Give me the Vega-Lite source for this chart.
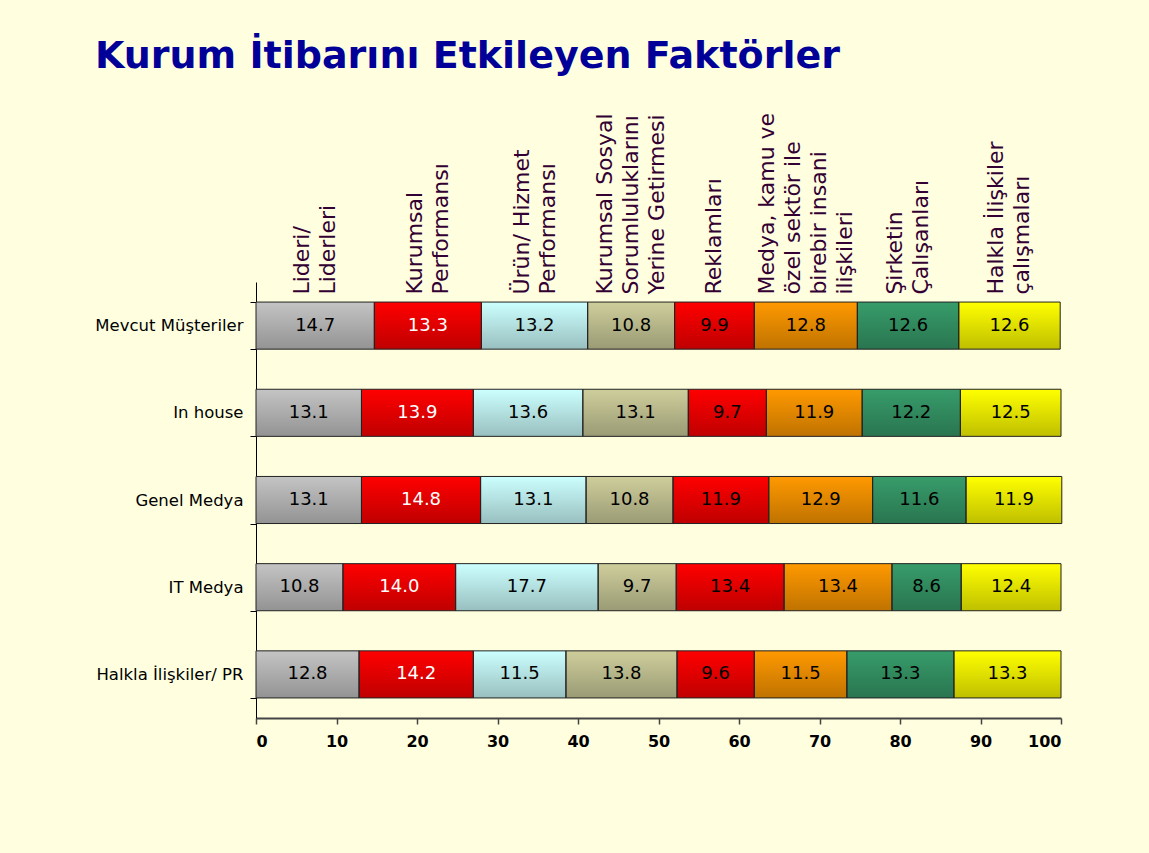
{
  "$schema": "https://vega.github.io/schema/vega-lite/v6.json",
  "width": 805,
  "height": 436,
  "autosize": {"type": "none"},
  "padding": {"left": 256, "top": 282, "right": 88, "bottom": 135},
  "background": "#FFFFE0",
  "title": {
    "text": "Kurum İtibarını Etkileyen Faktörler",
    "anchor": "start",
    "frame": "group",
    "font": "DejaVu Sans",
    "fontSize": 38,
    "fontWeight": "bold",
    "color": "#000099",
    "dx": -161,
    "offset": 37
  },
  "config": {"view": {"stroke": null}},
  "data": {
    "values": [
      {"row": "Mevcut Müşteriler", "k": 1, "factor": "Lideri/\nLiderleri", "value": 14.7},
      {"row": "Mevcut Müşteriler", "k": 2, "factor": "Kurumsal\nPerformansı", "value": 13.3},
      {"row": "Mevcut Müşteriler", "k": 3, "factor": "Ürün/ Hizmet\nPerformansı", "value": 13.2},
      {"row": "Mevcut Müşteriler", "k": 4, "factor": "Kurumsal Sosyal\nSorumluluklarını\nYerine Getirmesi", "value": 10.8},
      {"row": "Mevcut Müşteriler", "k": 5, "factor": "Reklamları", "value": 9.9},
      {"row": "Mevcut Müşteriler", "k": 6, "factor": "Medya, kamu ve\nözel sektör ile\nbirebir insani\nilişkileri", "value": 12.8},
      {"row": "Mevcut Müşteriler", "k": 7, "factor": "Şirketin\nÇalışanları", "value": 12.6},
      {"row": "Mevcut Müşteriler", "k": 8, "factor": "Halkla İlişkiler\nçalışmaları", "value": 12.6},
      {"row": "In house", "k": 1, "factor": "Lideri/\nLiderleri", "value": 13.1},
      {"row": "In house", "k": 2, "factor": "Kurumsal\nPerformansı", "value": 13.9},
      {"row": "In house", "k": 3, "factor": "Ürün/ Hizmet\nPerformansı", "value": 13.6},
      {"row": "In house", "k": 4, "factor": "Kurumsal Sosyal\nSorumluluklarını\nYerine Getirmesi", "value": 13.1},
      {"row": "In house", "k": 5, "factor": "Reklamları", "value": 9.7},
      {"row": "In house", "k": 6, "factor": "Medya, kamu ve\nözel sektör ile\nbirebir insani\nilişkileri", "value": 11.9},
      {"row": "In house", "k": 7, "factor": "Şirketin\nÇalışanları", "value": 12.2},
      {"row": "In house", "k": 8, "factor": "Halkla İlişkiler\nçalışmaları", "value": 12.5},
      {"row": "Genel Medya", "k": 1, "factor": "Lideri/\nLiderleri", "value": 13.1},
      {"row": "Genel Medya", "k": 2, "factor": "Kurumsal\nPerformansı", "value": 14.8},
      {"row": "Genel Medya", "k": 3, "factor": "Ürün/ Hizmet\nPerformansı", "value": 13.1},
      {"row": "Genel Medya", "k": 4, "factor": "Kurumsal Sosyal\nSorumluluklarını\nYerine Getirmesi", "value": 10.8},
      {"row": "Genel Medya", "k": 5, "factor": "Reklamları", "value": 11.9},
      {"row": "Genel Medya", "k": 6, "factor": "Medya, kamu ve\nözel sektör ile\nbirebir insani\nilişkileri", "value": 12.9},
      {"row": "Genel Medya", "k": 7, "factor": "Şirketin\nÇalışanları", "value": 11.6},
      {"row": "Genel Medya", "k": 8, "factor": "Halkla İlişkiler\nçalışmaları", "value": 11.9},
      {"row": "IT Medya", "k": 1, "factor": "Lideri/\nLiderleri", "value": 10.8},
      {"row": "IT Medya", "k": 2, "factor": "Kurumsal\nPerformansı", "value": 14.0},
      {"row": "IT Medya", "k": 3, "factor": "Ürün/ Hizmet\nPerformansı", "value": 17.7},
      {"row": "IT Medya", "k": 4, "factor": "Kurumsal Sosyal\nSorumluluklarını\nYerine Getirmesi", "value": 9.7},
      {"row": "IT Medya", "k": 5, "factor": "Reklamları", "value": 13.4},
      {"row": "IT Medya", "k": 6, "factor": "Medya, kamu ve\nözel sektör ile\nbirebir insani\nilişkileri", "value": 13.4},
      {"row": "IT Medya", "k": 7, "factor": "Şirketin\nÇalışanları", "value": 8.6},
      {"row": "IT Medya", "k": 8, "factor": "Halkla İlişkiler\nçalışmaları", "value": 12.4},
      {"row": "Halkla İlişkiler/ PR", "k": 1, "factor": "Lideri/\nLiderleri", "value": 12.8},
      {"row": "Halkla İlişkiler/ PR", "k": 2, "factor": "Kurumsal\nPerformansı", "value": 14.2},
      {"row": "Halkla İlişkiler/ PR", "k": 3, "factor": "Ürün/ Hizmet\nPerformansı", "value": 11.5},
      {"row": "Halkla İlişkiler/ PR", "k": 4, "factor": "Kurumsal Sosyal\nSorumluluklarını\nYerine Getirmesi", "value": 13.8},
      {"row": "Halkla İlişkiler/ PR", "k": 5, "factor": "Reklamları", "value": 9.6},
      {"row": "Halkla İlişkiler/ PR", "k": 6, "factor": "Medya, kamu ve\nözel sektör ile\nbirebir insani\nilişkileri", "value": 11.5},
      {"row": "Halkla İlişkiler/ PR", "k": 7, "factor": "Şirketin\nÇalışanları", "value": 13.3},
      {"row": "Halkla İlişkiler/ PR", "k": 8, "factor": "Halkla İlişkiler\nçalışmaları", "value": 13.3}
    ]
  },
  "transform": [
    {"stack": "value", "groupby": ["row"], "sort": [{"field": "k", "order": "ascending"}], "as": ["x0", "x1"]},
    {"calculate": "(datum.x0 + datum.x1) / 2", "as": "xm"}
  ],
  "encoding": {
    "y": {
      "field": "row",
      "type": "nominal",
      "sort": null,
      "scale": {"paddingInner": 0.46, "paddingOuter": 0.23},
      "axis": {
        "title": null,
        "tickBand": "extent",
        "tickSize": 6,
        "tickColor": "#000000",
        "domainColor": "#000000",
        "labelFont": "DejaVu Sans",
        "labelFontSize": 16.5,
        "labelColor": "#000000",
        "labelPadding": 7,
        "labelLimit": 300
      }
    }
  },
  "layer": [
    {
      "mark": {"type": "bar"},
      "encoding": {
        "x": {
          "field": "x0",
          "type": "quantitative",
          "scale": {"domain": [0, 100], "nice": false},
          "axis": {
            "title": null,
            "values": [0, 10, 20, 30, 40, 50, 60, 70, 80, 90, 100],
            "grid": false,
            "tickSize": 6,
            "tickColor": "#444444",
            "domainColor": "#444444",
            "domainWidth": 2,
            "tickWidth": 1.5,
            "labelFont": "DejaVu Sans",
            "labelFontSize": 16,
            "labelFontWeight": "bold",
            "labelColor": "#000000",
            "labelPadding": 9
          }
        },
        "x2": {"field": "x1"},
        "color": {
          "field": "factor",
          "type": "nominal",
          "legend": null,
          "scale": {
            "domain": ["Lideri/\nLiderleri", "Kurumsal\nPerformansı", "Ürün/ Hizmet\nPerformansı", "Kurumsal Sosyal\nSorumluluklarını\nYerine Getirmesi", "Reklamları", "Medya, kamu ve\nözel sektör ile\nbirebir insani\nilişkileri", "Şirketin\nÇalışanları", "Halkla İlişkiler\nçalışmaları"],
            "range": ["#C4C4C4", "#FF0000", "#CCFFFF", "#CECE9C", "#FF0000", "#FF9900", "#379C6A", "#FFFF00"]
          }
        }
      }
    },
    {
      "mark": {
        "type": "bar",
        "stroke": "#222222",
        "strokeWidth": 1,
        "fill": {
          "gradient": "linear",
          "x1": 0, "y1": 0, "x2": 0, "y2": 1,
          "stops": [
            {"offset": 0, "color": "rgba(0,0,0,0)"},
            {"offset": 1, "color": "rgba(0,0,0,0.25)"}
          ]
        }
      },
      "encoding": {
        "x": {"field": "x0", "type": "quantitative"},
        "x2": {"field": "x1"}
      }
    },
    {
      "mark": {"type": "text", "font": "DejaVu Sans", "fontSize": 18, "baseline": "middle"},
      "encoding": {
        "x": {"field": "xm", "type": "quantitative"},
        "text": {"field": "value", "type": "quantitative", "format": ".1f"},
        "color": {"condition": {"test": "datum.k === 2", "value": "#FFFFFF"}, "value": "#000000"}
      }
    },
    {
      "transform": [{"filter": "datum.row === 'Mevcut Müşteriler' && datum.k === 5"}],
      "mark": {"type": "text", "angle": 270, "align": "left", "baseline": "middle", "dx": 31, "dy": 0, "lineBreak": "\n", "lineHeight": 26, "font": "DejaVu Sans", "fontSize": 22, "color": "#330033"},
      "encoding": {"x": {"field": "xm", "type": "quantitative"}, "text": {"field": "factor", "type": "nominal"}}
    },
    {
      "transform": [{"filter": "datum.row === 'Mevcut Müşteriler' && (datum.k === 1 || datum.k === 2 || datum.k === 3 || datum.k === 7 || datum.k === 8)"}],
      "mark": {"type": "text", "angle": 270, "align": "left", "baseline": "middle", "dx": 31, "dy": -13, "lineBreak": "\n", "lineHeight": 26, "font": "DejaVu Sans", "fontSize": 22, "color": "#330033"},
      "encoding": {"x": {"field": "xm", "type": "quantitative"}, "text": {"field": "factor", "type": "nominal"}}
    },
    {
      "transform": [{"filter": "datum.row === 'Mevcut Müşteriler' && datum.k === 4"}],
      "mark": {"type": "text", "angle": 270, "align": "left", "baseline": "middle", "dx": 31, "dy": -26, "lineBreak": "\n", "lineHeight": 26, "font": "DejaVu Sans", "fontSize": 22, "color": "#330033"},
      "encoding": {"x": {"field": "xm", "type": "quantitative"}, "text": {"field": "factor", "type": "nominal"}}
    },
    {
      "transform": [{"filter": "datum.row === 'Mevcut Müşteriler' && datum.k === 6"}],
      "mark": {"type": "text", "angle": 270, "align": "left", "baseline": "middle", "dx": 31, "dy": -39, "lineBreak": "\n", "lineHeight": 26, "font": "DejaVu Sans", "fontSize": 22, "color": "#330033"},
      "encoding": {"x": {"field": "xm", "type": "quantitative"}, "text": {"field": "factor", "type": "nominal"}}
    }
  ]
}
